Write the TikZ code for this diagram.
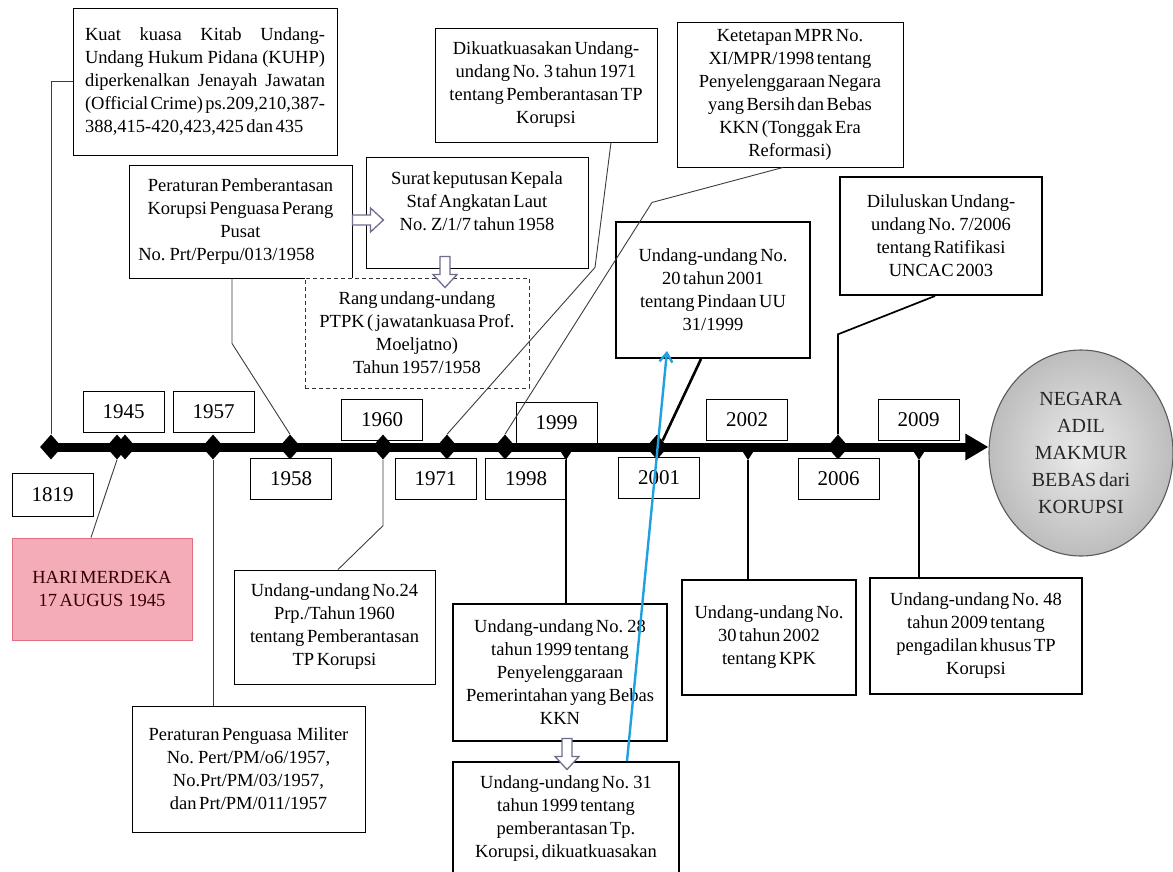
\documentclass[tikz,border=0pt]{standalone}
\usepackage{fontspec}
\setmainfont{Liberation Serif}[WordSpace=0.55]
\usetikzlibrary{shapes.geometric,arrows.meta,calc}
\definecolor{pinkA}{RGB}{252,226,231}
\definecolor{pinkB}{RGB}{243,172,184}
\definecolor{pinkE}{RGB}{222,110,128}
\definecolor{arrgray}{RGB}{110,110,140}
\definecolor{cyanln}{RGB}{30,160,225}
\definecolor{lngray}{RGB}{60,60,60}
\tikzset{
  bx/.style 2 args={minimum width=#1pt, minimum height=#2pt},
  box/.style={draw=black, line width=0.9pt, fill=white, align=center, inner sep=0pt,
              font=\fontsize{18.5}{23}\selectfont},
  thickbox/.style={box, line width=2pt},
  dashbox/.style={box, draw=black!80, dash pattern=on 4pt off 3pt},
  yearbox/.style={draw=black, line width=0.9pt, fill=white, minimum width=81pt,
                  minimum height=41pt, inner sep=0pt, font=\fontsize{21}{24}\selectfont},
  dia/.style={diamond, fill=black, minimum width=22pt, minimum height=25pt, inner sep=0pt},
  thinln/.style={draw=lngray, line width=0.9pt},
  medln/.style={draw=black, line width=1.7pt},
  hollowarr/.pic={\draw[arrgray, fill=white, line width=1.3pt, line join=miter]
      (-15.5,-5) -- (2.5,-5) -- (2.5,-12) -- (15.5,0) -- (2.5,12) -- (2.5,5) -- (-15.5,5) -- cycle;},
  downtri/.pic={\fill (-9,-1) -- (9,-1) -- (0,13) -- cycle; \coordinate (-tip) at (0,13);}
}
\begin{document}
\begin{tikzpicture}[x=1pt, y=-1pt]
\useasboundingbox (0,0) rectangle (1173,872);

% ---------- main boxes ----------
\node[box, bx={264}{147}, align=left] (kuhp) at (205,81.5)
  {\makebox[240pt][s]{Kuat kuasa Kitab Undang-}\\
   \makebox[240pt][s]{Undang Hukum Pidana (KUHP)}\\
   \makebox[240pt][s]{diperkenalkan Jenayah Jawatan}\\
   \makebox[240pt][s]{(Official Crime) ps.209,210,387-}\\
   388,415-420,423,425 dan 435};
\node[box, bx={223}{113}] (perat) at (240.5,221.5)
  {Peraturan Pemberantasan\\Korupsi Penguasa Perang\\Pusat\\\hspace*{-28pt}No. Prt/Perpu/013/1958};
\node[box, bx={222}{111}] (surat) at (477,212.5)
  {Surat keputusan Kepala\\Staf Angkatan Laut\\No. Z/1/7 tahun 1958\\\mbox{}};
\node[dashbox, bx={224}{110}] (rang) at (417,333)
  {Rang undang-undang\\PTPK ( jawatankuasa Prof.\\Moeljatno)\\Tahun 1957/1958};
\node[box, bx={222}{114}] (dikuat) at (546,85)
  {Dikuatkuasakan Undang-\\undang No. 3 tahun 1971\\tentang Pemberantasan TP\\Korupsi};
\node[box, bx={226}{145}] (ketet) at (790,94.5)
  {Ketetapan MPR No.\\XI/MPR/1998 tentang\\Penyelenggaraan Negara\\yang Bersih dan Bebas\\KKN (Tonggak Era\\Reformasi)};
\node[thickbox, bx={194}{136}] (uu20) at (713,290)
  {Undang-undang No.\\20 tahun 2001\\tentang Pindaan UU\\31/1999};
\node[thickbox, bx={202}{118}] (dilulus) at (941,236)
  {Diluluskan Undang-\\undang No. 7/2006\\tentang Ratifikasi\\UNCAC 2003};
\node[ellipse, draw=gray!70!black, line width=1.1pt, shading=radial,
      inner color=gray!15, outer color=gray!52, bx={184}{206}, inner sep=0pt,
      align=center, font=\fontsize{20}{27}\selectfont, text=black!85] (goal) at (1081,453)
  {NEGARA\\ADIL\\MAKMUR\\BEBAS dari\\KORUPSI};
\node[box, draw=pinkE, line width=1pt, top color=pinkB, middle color=pinkA,
      bottom color=pinkB, bx={180}{102}, text=black!80!red] (hari) at (102,589)
  {HARI MERDEKA\\17 AUGUS \ 1945};
\node[box, bx={201}{114}] (uu24) at (334.5,627)
  {Undang-undang No.24\\Prp./Tahun 1960\\tentang Pemberantasan\\TP Korupsi};
\node[box, bx={233}{126}] (milit) at (248.5,769)
  {Peraturan Penguasa \ Militer\\No. Pert/PM/o6/1957,\\No.Prt/PM/03/1957,\\dan Prt/PM/011/1957};
\node[thickbox, bx={214}{137}] (uu28) at (560,672.5)
  {Undang-undang No. 28\\tahun 1999 tentang\\Penyelenggaraan\\Pemerintahan yang Bebas\\KKN};
\node[thickbox, bx={226}{114}] (uu31) at (566,819)
  {Undang-undang No. 31\\tahun 1999 tentang\\pemberantasan Tp.\\Korupsi, dikuatkuasakan};
\node[thickbox, bx={174}{115}] (uu30) at (769,637.5)
  {Undang-undang No.\\30 tahun 2002\\tentang KPK};
\node[thickbox, bx={212}{116}] (uu48) at (976,636)
  {Undang-undang No. 48\\tahun 2009 tentang\\pengadilan khusus TP\\Korupsi};

% ---------- year boxes ----------
\node[yearbox, minimum height=43pt] (y1819) at (52.5,494.5) {1819};
\node[yearbox] (y1945) at (123.5,412) {1945};
\node[yearbox] (y1957) at (213.5,412) {1957};
\node[yearbox] (y1958) at (291,479) {1958};
\node[yearbox] (y1960) at (382,419.5) {1960};
\node[yearbox] (y1971) at (435.5,478.5) {1971};
\node[yearbox] (y1998) at (526,478.5) {1998};
\node[yearbox] (y1999) at (556.5,423) {1999};
\node[yearbox] (y2001) at (659,478) {2001};
\node[yearbox] (y2002) at (747,419.5) {2002};
\node[yearbox] (y2006) at (838.5,478.5) {2006};
\node[yearbox] (y2009) at (918.5,419.5) {2009};

% ---------- timeline ----------
\coordinate (tstart) at (44,447);
\draw[line width=9pt, -{Triangle[length=23pt,width=25pt]}] (tstart) -- (tstart -| goal.west);
\node[dia] (d1819) at (51,447) {};
\node[dia] (d1945) at (117,447) {};
\node[dia] (d1945b) at (125,447) {};
\node[dia] (d1957) at (213,447) {};
\node[dia] (d1958) at (290,447) {};
\node[dia] (d1960) at (383,447) {};
\node[dia] (d1971) at (447,447) {};
\node[dia] (d1998) at (505,447) {};
\node[dia] (d2001) at (657,447) {};
\node[dia] (d2006) at (838,447) {};
\pic (m1999) at (566,447) {downtri};
\pic (m2002) at (748,447) {downtri};
\pic (m2009) at (919,447) {downtri};

% ---------- connectors ----------
\draw[thinln] (kuhp.west) -| (d1819.north);
\draw[thinln] ([xshift=-8.5pt]perat.south) -- ++(0,65) -- (d1958.north);
\draw[thinln] ([xshift=65pt]dikuat.south) -- ++(-16,125) -- (d1971.north);
\draw[thinln] ([xshift=-7pt]ketet.south) -- ++(-131,35) -- (d1998.north);
\draw[thinln] ([xshift=-11pt]hari.north) -- (d1945.south);
\draw[thinln] ([xshift=3.5pt]uu24.north) -- ($(d1960.south)+(0,66)$) -- (d1960.south);
\draw[thinln] (d1957.south) -- (d1957.south |- milit.north);
\draw[medln] (m1999-tip) -- (m1999-tip |- uu28.north);
\draw[medln] (m2002-tip) -- (m2002-tip |- uu30.north);
\draw[medln] (m2009-tip) -- (m2009-tip |- uu48.north);
\draw[medln] ([xshift=-6pt]dilulus.south) -- ($(d2006.north)+(0,-100)$) -- (d2006.north);
\draw[black, line width=2.6pt] ([xshift=-12pt]uu20.south) -- (d2001.north east);

% ---------- block arrows ----------
\pic at ($(perat.east)+(15.5,-1.5)$) {hollowarr};
\pic[rotate=-90] at ($(rang.north)+(28,-5.5)$) {hollowarr};
\pic[rotate=-90] at ($(uu31.north)+(1,-7)$) {hollowarr};

% ---------- cyan arrow ----------
\draw[cyanln, line width=2.4pt, -{Straight Barb[length=9pt,width=13pt]}]
  ([xshift=61pt]uu31.north) -- ([xshift=-46pt,yshift=8pt]uu20.south);
\end{tikzpicture}
\end{document}
